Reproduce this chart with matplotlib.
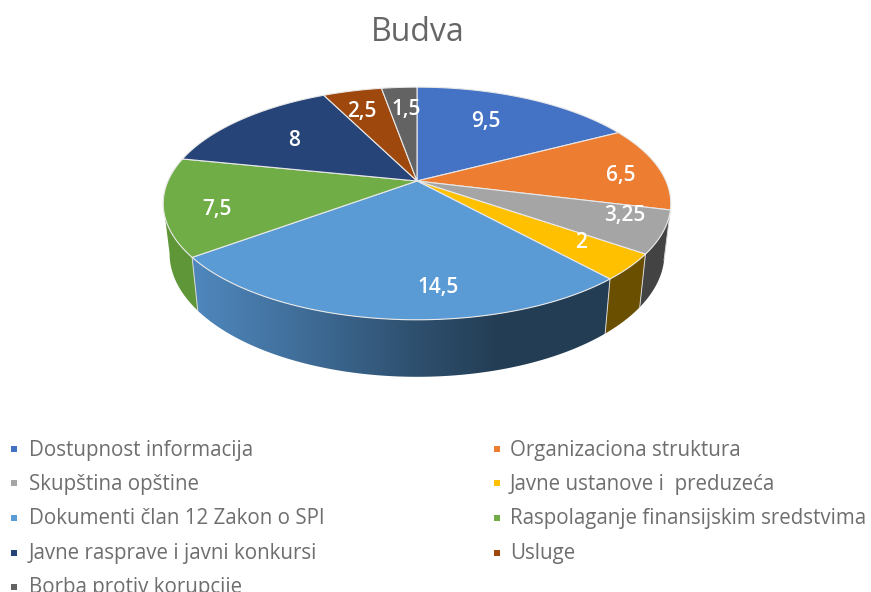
import numpy as np
import matplotlib
matplotlib.use('Agg')
import matplotlib.pyplot as plt
from matplotlib.patches import Polygon

plt.rcParams['font.family'] = ['Open Sans', 'DejaVu Sans']

# data
categories = ['Dostupnost informacija', 'Organizaciona struktura', 'Skupština opštine',
              'Javne ustanove i  preduzeća', 'Dokumenti član 12 Zakon o SPI',
              'Raspolaganje finansijskim sredstvima', 'Javne rasprave i javni konkursi',
              'Usluge', 'Borba protiv korupcije']
values = [9.5, 6.5, 3.25, 2, 14.5, 7.5, 8, 2.5, 1.5]
value_labels = ['9,5', '6,5', '3,25', '2', '14,5', '7,5', '8', '2,5', '1,5']

# styles
top_colors = ['#4472C4', '#ED7D31', '#A5A5A5', '#FFC000', '#5B9BD5',
              '#70AD47', '#264478', '#9E480E', '#636363']
wall_colors = ['#2F5597', '#A85820', '#434343', '#6B4F00', None,
               '#5E9638', '#1B3055', '#6E320A', '#454545']
blue_wall_x = [195, 300, 417, 500, 610]
blue_wall_rgb = [(0.31, 0.53, 0.74), (0.25, 0.43, 0.60), (0.18, 0.31, 0.43),
                 (0.14, 0.24, 0.33), (0.14, 0.24, 0.33)]

# layout in pixels
label_xy = [(486, 121), (621, 175), (625, 216), (581, 243), (438, 287),
            (217, 209), (294, 140), (362, 112), (406, 110)]
marker_x = [14, 497]
text_x = [29, 510]
marker_y = [449, 483, 518, 553, 587]
text_y = [456, 490, 524, 559, 593]
cx, cy = 417, 181
a, b, k = 249, 112, 0.193


def top_edge(t):
    u, v = np.sin(t), -np.cos(t)
    d = 1 - k * v
    return cx + a * u / d, cy + b * v / d


def bottom_edge(t):
    x, y = top_edge(t)
    return cx + 0.975 * (x - cx), 229.7 + 1.06 * (y - cy)


fig = plt.figure(figsize=(8.71, 5.92), dpi=100)
ax = fig.add_axes([0, 0, 1, 1])
ax.axis('off')

ends = np.cumsum(values) / np.sum(values) * 2 * np.pi
starts = np.r_[0, ends[:-1]]
lo, hi = np.radians(104), np.radians(259)

# side walls, only the part facing the viewer
for i in range(len(values)):
    t0, t1 = max(starts[i], lo), min(ends[i], hi)
    if t1 <= t0:
        continue
    tt = np.linspace(t0, t1, 100)
    xt, yt = top_edge(tt)
    xb, yb = bottom_edge(tt)
    pts = np.c_[np.r_[xt, xb[::-1]], np.r_[yt, yb[::-1]]]
    if wall_colors[i] is None:
        # the big slice has a shaded wall
        xs = np.arange(pts[:, 0].min(), pts[:, 0].max() + 1)
        grad = np.array([[np.interp(x, blue_wall_x, [c[n] for c in blue_wall_rgb]) for n in range(3)] for x in xs])
        im = ax.imshow(grad[np.newaxis, :, :], aspect='auto', zorder=2,
                       extent=(xs[0], xs[-1], pts[:, 1].max(), pts[:, 1].min()))
        clip = Polygon(pts, closed=True, transform=ax.transData, facecolor='none', edgecolor='none')
        ax.add_patch(clip)
        im.set_clip_path(clip)
    else:
        ax.add_patch(Polygon(pts, closed=True, facecolor=wall_colors[i], edgecolor='none', zorder=2))

ax.set_xlim(0, 871)
ax.set_ylim(592, 0)

# light seams between visible walls
for t in ends[:-1]:
    if lo < t < hi:
        xt, yt = top_edge(t)
        xb, yb = bottom_edge(t)
        ax.plot([xt, xb], [yt, yb], color='#d9d9d9', lw=0.7, zorder=3)

# top face
for i in range(len(values)):
    tt = np.linspace(starts[i], ends[i], 120)
    x, y = top_edge(tt)
    ax.fill(np.r_[cx, x], np.r_[cy, y], facecolor=top_colors[i], edgecolor='#e8e8e8', lw=0.8, zorder=4)

for i in range(len(values)):
    ax.text(label_xy[i][0], label_xy[i][1], value_labels[i], color='white', fontsize=15,
            fontweight='semibold', ha='center', va='center', zorder=5)

ax.text(417.5, 41, 'Budva', color='#666666', fontsize=23, ha='center', va='baseline')

# legend
for i in range(len(categories)):
    col = i % 2
    row = i // 2
    ax.scatter([marker_x[col]], [marker_y[row]], marker='s', s=24, color=top_colors[i], linewidths=0, zorder=5)
    ax.text(text_x[col], text_y[row], categories[i], color='#6e6e6e', fontsize=14.8,
            ha='left', va='baseline', zorder=5)

fig.savefig('out.png', dpi=100)
